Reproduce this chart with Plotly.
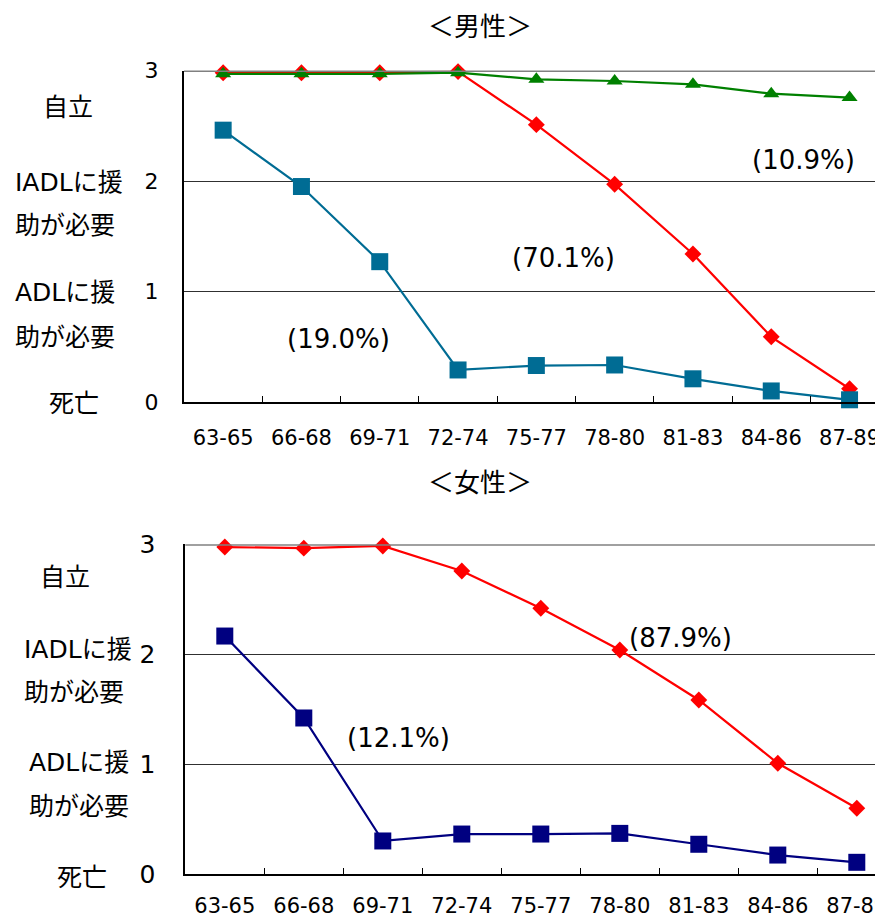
import plotly.graph_objects as go

# The page body adds an 8px margin, so the figure is drawn 8px smaller
# and all reference pixel positions are shifted by OFF.
OFF = 8
W, H = 883 - OFF, 916 - OFF

categories = ["63-65", "66-68", "69-71", "72-74", "75-77", "78-80", "81-83", "84-86", "87-89"]

# 男性
male_red = [2.98, 2.98, 2.98, 2.99, 2.51, 1.97, 1.34, 0.59, 0.12]      # 70.1%
male_blue = [2.46, 1.95, 1.27, 0.29, 0.33, 0.335, 0.21, 0.10, 0.02]    # 19.0%
male_green = [2.97, 2.97, 2.97, 2.98, 2.92, 2.905, 2.875, 2.79, 2.755]  # 10.9%

# 女性
female_red = [2.975, 2.965, 2.985, 2.757, 2.418, 2.039, 1.585, 1.009, 0.60]  # 87.9%
female_blue = [2.166, 1.421, 0.303, 0.366, 0.366, 0.372, 0.273, 0.175, 0.109]  # 12.1%

y_ticks = [0, 1, 2, 3]
level_labels = ["自立", "IADLに援", "助が必要", "ADLに援", "助が必要", "死亡"]

FONT = "DejaVu Sans, Noto Sans CJK JP, sans-serif"

def px(x, y):
    return (x - OFF) / W, 1 - (y - OFF) / H

def fx(x):
    return (x - OFF) / W

def fy(y):
    return 1 - (y - OFF) / H

fig = go.Figure()

def add_series(vals, color, symbol, size, xa, ya):
    fig.add_trace(go.Scatter(
        x=categories, y=vals, mode="lines+markers",
        line=dict(color=color, width=2.2),
        marker=dict(symbol=symbol, size=size, color=color),
        xaxis=xa, yaxis=ya, cliponaxis=False, showlegend=False,
    ))

add_series(male_red, "#FF0000", "diamond", 13, "x", "y")
add_series(male_blue, "#006C94", "square", 17, "x", "y")
add_series(male_green, "#008000", "triangle-up", 14, "x", "y")
add_series(female_red, "#FF0000", "diamond", 13, "x2", "y2")
add_series(female_blue, "#000080", "square", 17, "x2", "y2")

# axis geometry (reference pixels)
top_left, top_y0, top_y3 = 184, 402, 70.5
bot_left, bot_y0, bot_y3 = 185.3, 874.3, 544.3
top_step = 78.3
bot_step = 79.0
top_rmax = -0.5 + (883 - top_left) / top_step
bot_rmax = -0.5 + (883 - bot_left) / bot_step

xcommon = dict(type="category", tickson="boundaries", ticks="inside", ticklen=6,
               tickcolor="#000000", tickwidth=1, showline=True, linecolor="#000000",
               linewidth=2, showgrid=False, zeroline=False, automargin=False,
               tickfont=dict(family=FONT, size=21, color="#000000"))
ycommon = dict(range=[0, 3], tickvals=y_ticks, ticks="", showline=True,
               linecolor="#000000", linewidth=2, showgrid=True, gridcolor="#303030",
               gridwidth=1, zeroline=False, automargin=False)

fig.update_layout(
    width=W, height=H, margin=dict(l=0, r=0, t=0, b=0, autoexpand=False),
    paper_bgcolor="#FFFFFF", plot_bgcolor="#FFFFFF",
    font=dict(family=FONT, color="#000000"),
    xaxis=dict(xcommon, domain=[fx(top_left), 1], range=[-0.5, top_rmax],
               anchor="y", ticklabelstandoff=16),
    yaxis=dict(ycommon, domain=[fy(top_y0), fy(top_y3)], anchor="x",
               ticklabelstandoff=19, tickfont=dict(family=FONT, size=22, color="#000000")),
    xaxis2=dict(xcommon, domain=[fx(bot_left), 1], range=[-0.5, bot_rmax],
                anchor="y2", ticklabelstandoff=11),
    yaxis2=dict(ycommon, domain=[fy(bot_y0), fy(bot_y3)], anchor="x2",
                ticklabelstandoff=23, tickfont=dict(family=FONT, size=25, color="#000000")),
)

# gray top line at level 3
for xr, yr in (("x domain", "y"), ("x2 domain", "y2")):
    fig.add_shape(type="line", xref=xr, yref=yr, x0=0, x1=1, y0=3, y1=3,
                  line=dict(color="#808080", width=3), layer="above")

def ann(text, x, y, size, xanchor="center"):
    ax, ay = px(x, y)
    fig.add_annotation(text=text, x=ax, y=ay, xref="paper", yref="paper",
                       xanchor=xanchor, yanchor="middle", showarrow=False,
                       font=dict(family=FONT, size=size, color="#000000"))

# titles
ann("＜男性＞", 480, 27, 26)
ann("＜女性＞", 480, 483, 26)

# left level labels
top_pos = [(41, 108), (13, 182), (13, 226), (13, 292), (13, 337), (47, 403)]
for t, (x, y) in zip(level_labels, top_pos):
    ann(t, x, y, 25, xanchor="left")
bot_pos = [(38, 577), (22, 649), (22, 692), (27, 762), (27, 806), (55, 877)]
for t, (x, y) in zip(level_labels, bot_pos):
    ann(t, x, y, 25, xanchor="left")

# percentage annotations
ann("(10.9%)", 803, 160, 26)
ann("(70.1%)", 563, 258, 26)
ann("(19.0%)", 338, 339, 26)
ann("(87.9%)", 680, 638, 26)
ann("(12.1%)", 398, 738, 26)

fig.write_html("out.html")
